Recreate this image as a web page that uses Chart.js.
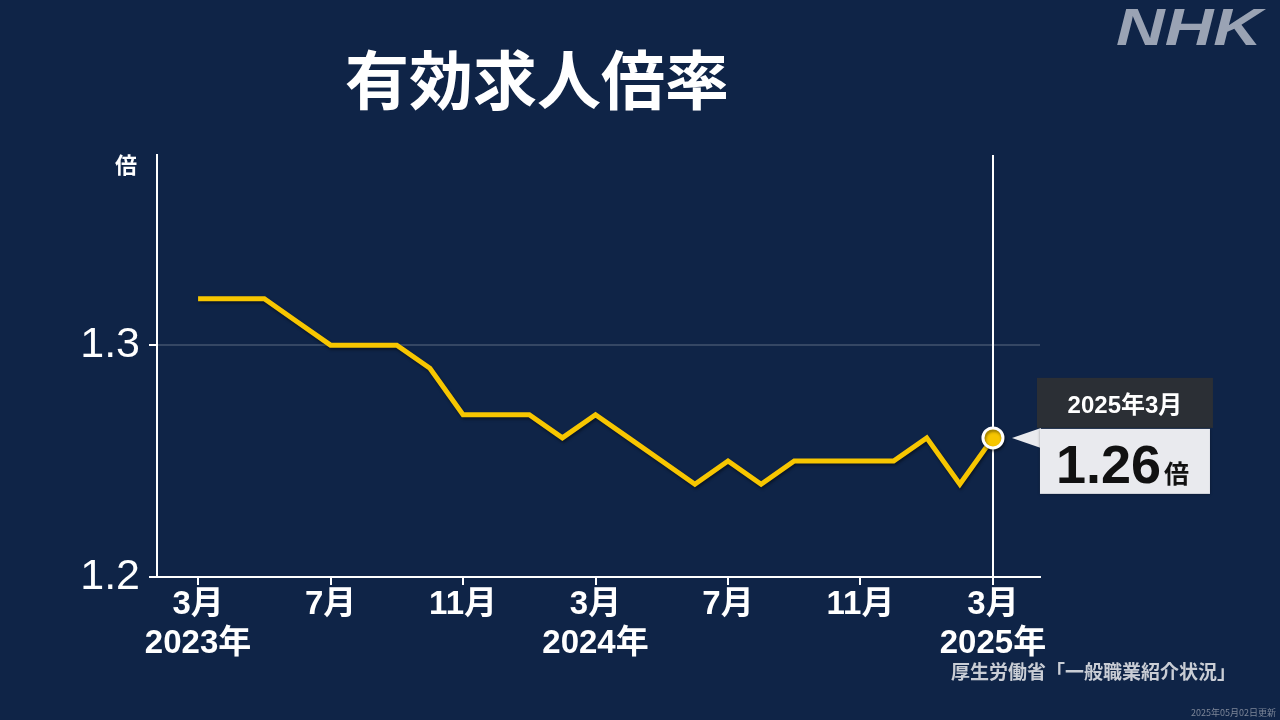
<!DOCTYPE html>
<html lang="ja">
<head>
<meta charset="utf-8">
<title>有効求人倍率</title>
<script src="https://cdn.jsdelivr.net/npm/chart.js@4.4.1/dist/chart.umd.min.js"></script>
<style>
  html, body { margin: 0; padding: 0; background: #0f2447; }
  canvas { display: block; }
</style>
</head>
<body>
<canvas id="JobRatioChart" width="1280" height="720"></canvas>
<script>
// data (monthly, 2023年3月 - 2025年3月)
const categories = [
    '2023年3月', '2023年4月', '2023年5月', '2023年6月', '2023年7月', '2023年8月',
    '2023年9月', '2023年10月', '2023年11月', '2023年12月', '2024年1月', '2024年2月',
    '2024年3月', '2024年4月', '2024年5月', '2024年6月', '2024年7月', '2024年8月',
    '2024年9月', '2024年10月', '2024年11月', '2024年12月', '2025年1月', '2025年2月',
    '2025年3月'
];
const ratioValues = [
    1.32, 1.32, 1.32, 1.31, 1.30, 1.30,
    1.30, 1.29, 1.27, 1.27, 1.27, 1.26,
    1.27, 1.26, 1.25, 1.24, 1.25, 1.24,
    1.25, 1.25, 1.25, 1.25, 1.26, 1.24,
    1.26
];
const xTickIndex = [0, 4, 8, 12, 16, 20, 24];
const xTickMonth = ['3月', '7月', '11月', '3月', '7月', '11月', '3月'];
const xTickYear = ['2023年', '', '', '2024年', '', '', '2025年'];
const yTicks = [1.2, 1.3];

const titleText = '有効求人倍率';
const unitText = '倍';
const sourceText = '厚生労働省「一般職業紹介状況」';
const updatedText = '2025年05月02日更新';

document.addEventListener("DOMContentLoaded", function() {
    const lastIdx = ratioValues.length - 1;
    const latinFont = "'Liberation Sans', 'Noto Sans CJK JP', sans-serif";
    const cjkFont = "'Noto Sans CJK JP', sans-serif";

    // title, unit, source and logo
    const textPlugin = {
        id: 'textPlugin',
        afterDraw(chart) {
            const ctx = chart.ctx;
            ctx.save();
            ctx.fillStyle = '#ffffff';
            ctx.textBaseline = 'middle';
            ctx.textAlign = 'center';
            ctx.font = "bold 64px " + cjkFont;
            ctx.fillText(titleText, 537, 80);

            ctx.font = "bold 22px " + cjkFont;
            ctx.fillText(unitText, 126, 165);

            ctx.fillStyle = '#c9cdd5';
            ctx.textAlign = 'right';
            ctx.font = "bold 19px " + cjkFont;
            ctx.fillText(sourceText, 1236, 672);

            ctx.fillStyle = '#7d8698';
            ctx.font = "9px " + cjkFont;
            ctx.fillText(updatedText, 1276, 713);

            // NHK logo
            ctx.fillStyle = '#9aa3b4';
            ctx.textAlign = 'left';
            ctx.font = "italic bold 52px 'Liberation Sans', sans-serif";
            const w = ctx.measureText('NHK').width;
            ctx.translate(1116, 31);
            ctx.scale(146 / w, 1);
            ctx.fillText('NHK', 0, 0);
            ctx.restore();
        }
    };

    // soft shadow under the line
    const lineShadow = {
        id: 'lineShadow',
        beforeDatasetDraw(chart) {
            const ctx = chart.ctx;
            ctx.save();
            ctx.shadowColor = 'rgba(0, 0, 0, 0.45)';
            ctx.shadowBlur = 3;
            ctx.shadowOffsetX = 1;
            ctx.shadowOffsetY = 2;
        },
        afterDatasetDraw(chart) {
            chart.ctx.restore();
        }
    };

    // callout for the latest value
    const calloutPlugin = {
        id: 'calloutPlugin',
        afterDatasetsDraw(chart) {
            const ctx = chart.ctx;
            const pt = chart.getDatasetMeta(0).data[lastIdx];
            const px = pt.x, py = pt.y;
            ctx.save();

            // pointer
            ctx.fillStyle = '#e9eaee';
            ctx.beginPath();
            ctx.moveTo(px + 19, py);
            ctx.lineTo(px + 48, py - 10);
            ctx.lineTo(px + 48, py + 10);
            ctx.closePath();
            ctx.fill();

            // header box
            ctx.fillStyle = '#2b2f35';
            ctx.fillRect(px + 44, py - 60, 176, 50);
            ctx.fillStyle = '#ffffff';
            ctx.font = "bold 24px " + latinFont;
            ctx.textAlign = 'center';
            ctx.textBaseline = 'middle';
            ctx.fillText(categories[lastIdx], px + 132, py - 32);

            // value box
            ctx.shadowColor = 'rgba(0, 0, 0, 0.5)';
            ctx.shadowBlur = 3;
            ctx.fillStyle = '#e9eaee';
            ctx.fillRect(px + 47, py - 9, 170, 65);
            ctx.shadowColor = 'transparent';

            ctx.fillStyle = '#111111';
            ctx.textAlign = 'left';
            ctx.textBaseline = 'alphabetic';
            ctx.font = "bold 54px " + latinFont;
            const valText = ratioValues[lastIdx].toFixed(2);
            ctx.fillText(valText, px + 63, py + 45);
            const vw = ctx.measureText(valText).width;
            ctx.font = "bold 25px " + cjkFont;
            ctx.fillText(unitText, px + 63 + vw + 3, py + 45);
            ctx.restore();
        }
    };

    const config = {
        type: 'line',
        data: {
            datasets: [{
                label: titleText,
                data: ratioValues.map((v, i) => ({ x: i, y: v })),
                borderColor: '#f7c600',
                borderWidth: 5,
                borderJoinStyle: 'miter',
                tension: 0,
                pointRadius: ctx => ctx.dataIndex === lastIdx ? 10 : 0,
                pointBackgroundColor: '#f7c600',
                pointBorderColor: '#ffffff',
                pointBorderWidth: 3,
                clip: false
            }]
        },
        options: {
            responsive: false,
            animation: false,
            devicePixelRatio: 1,
            layout: {
                padding: { top: 155, right: 240, bottom: 0, left: 0 }
            },
            plugins: {
                legend: { display: false },
                title: { display: false },
                tooltip: { enabled: false }
            },
            scales: {
                x: {
                    type: 'linear',
                    min: -1.24,
                    max: 25.42,
                    afterFit(scale) { scale.height = 143; },
                    afterBuildTicks(scale) {
                        scale.ticks = xTickIndex.map(v => ({ value: v }));
                    },
                    border: { color: '#ffffff', width: 2 },
                    grid: {
                        color: ctx => (ctx.tick && ctx.tick.value === lastIdx) ? '#ffffff' : 'rgba(0,0,0,0)',
                        lineWidth: 2,
                        drawTicks: true,
                        tickLength: 8,
                        tickColor: '#ffffff',
                        tickWidth: 2
                    },
                    ticks: {
                        autoSkip: false,
                        maxRotation: 0,
                        padding: 0,
                        color: '#ffffff',
                        font: { family: latinFont, size: 33, weight: 'bold', lineHeight: 1.2 },
                        callback(value) {
                            const k = xTickIndex.indexOf(value);
                            if (k < 0) return '';
                            return xTickYear[k] ? [xTickMonth[k], xTickYear[k]] : xTickMonth[k];
                        }
                    }
                },
                y: {
                    min: 1.2,
                    max: 1.382,
                    afterFit(scale) { scale.width = 157; },
                    afterBuildTicks(scale) {
                        scale.ticks = yTicks.map(v => ({ value: v }));
                    },
                    border: { color: '#ffffff', width: 2 },
                    grid: {
                        color: ctx => (ctx.tick && Math.abs(ctx.tick.value - 1.3) < 1e-6) ? 'rgba(255,255,255,0.16)' : 'rgba(0,0,0,0)',
                        lineWidth: 2,
                        drawTicks: true,
                        tickLength: 8,
                        tickColor: '#ffffff',
                        tickWidth: 2
                    },
                    ticks: {
                        padding: 9,
                        color: '#ffffff',
                        font: { family: latinFont, size: 43 },
                        callback: value => value.toFixed(1)
                    }
                }
            }
        },
        plugins: [lineShadow, calloutPlugin, textPlugin]
    };

    const chartCtx = document.getElementById("JobRatioChart").getContext("2d");
    new Chart(chartCtx, config);
});
</script>
</body>
</html>
